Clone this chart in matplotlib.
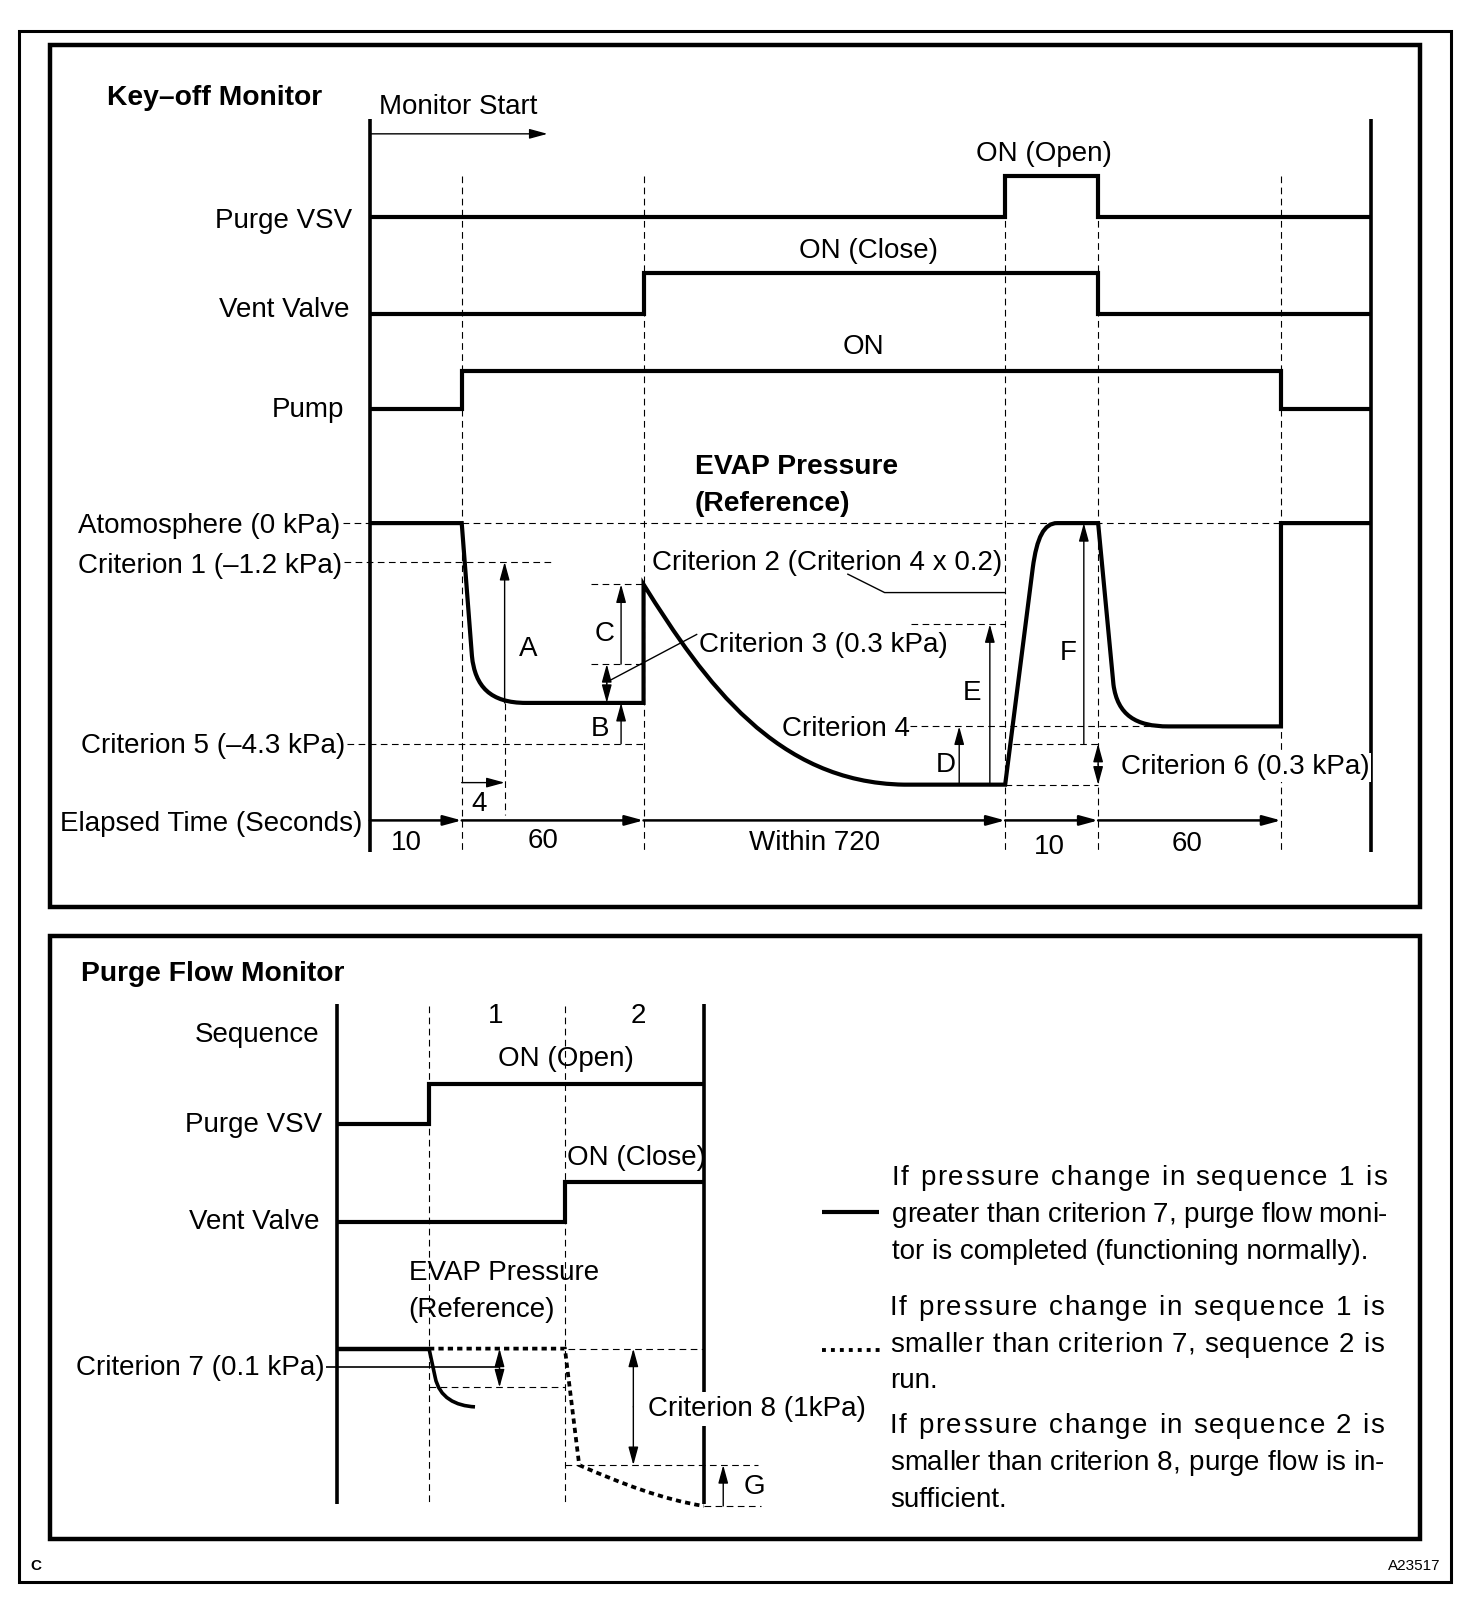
import matplotlib
matplotlib.use('Agg')
import matplotlib.pyplot as plt
from matplotlib.path import Path
from matplotlib.patches import PathPatch, Rectangle
from matplotlib.font_manager import FontProperties

plt.rcParams['font.family'] = ['Liberation Sans', 'DejaVu Sans']

# ---------------- key-off monitor ----------------
# schematic time axis: boundaries of the monitor phases
t_edges = [362, 452, 630, 984, 1075, 1254, 1342]
phase_text = ['10', '60', 'Within 720', '10', '60']

# on/off state per phase
purge_vsv = [0, 0, 0, 1, 0, 0]
vent_valve = [0, 0, 1, 1, 0, 0]
pump = [0, 1, 1, 1, 1, 0]

# EVAP pressure trace (schematic, M=move L=line C=bezier)
evap_pts = [(362, 512), (452, 512), (462, 642),
            (465, 672), (480, 688), (515, 688),
            (630, 688), (630, 572),
            (690, 668), (760, 766), (885, 768),
            (984, 768), (1011, 556),
            (1015, 526), (1022, 512), (1035, 512),
            (1075, 512), (1090, 670),
            (1094, 700), (1112, 711), (1144, 711),
            (1254, 711), (1254, 512), (1342, 512)]
evap_codes = 'MLLCCCLLCCCLLCCCLLCCCLLL'

# ---------------- purge flow monitor ----------------
seq_edges = [330, 420, 553, 689]
seq_names = ['1', '2']
purge_seq = [0, 1, 1]
vent_seq = [0, 0, 1]

normal_pts = [(420, 1320), (426, 1348), (430, 1368), (446, 1376), (465, 1377)]
normal_codes = 'MLCCC'
slow_pts = [(420, 1320), (553, 1320), (567, 1434), (608, 1452), (650, 1468), (689, 1474)]
slow_codes = 'MLLCCC'

notes = [
    ("If pressure change in sequence 1 is", True, 1150),
    ("greater than criterion 7, purge flow moni-", True, 1186),
    ("tor is completed (functioning normally).", False, 1222),
    ("If pressure change in sequence 1 is", True, 1277),
    ("smaller than criterion 7, sequence 2 is", True, 1313),
    ("run.", False, 1349),
    ("If pressure change in sequence 2 is", True, 1393),
    ("smaller than criterion 8, purge flow is in-", True, 1429),
    ("sufficient.", False, 1465),
]

CODES = {'M': Path.MOVETO, 'L': Path.LINETO, 'C': Path.CURVE4}
FS = 20
FSB = 20.3

fig = plt.figure(figsize=(14.72, 16.02), dpi=100)
ax = fig.add_axes([0, 0, 1, 1])
ax.set_xlim(0, 1441)
ax.set_ylim(1568, 0)
ax.axis('off')


def txt(x, y, s, ha='left', bold=False, size=None, **kw):
    if size is None:
        size = FSB if bold else FS
    return ax.text(x, y + 10, s, ha=ha, va='baseline', fontsize=size,
                   fontweight='bold' if bold else 'normal', **kw)


def hline(y, x0, x1, **kw):
    ax.plot([x0, x1], [y, y], color='k', solid_capstyle='butt', **kw)


def vline(x, y0, y1, **kw):
    ax.plot([x, x], [y0, y1], color='k', solid_capstyle='butt', **kw)


def dashed_h(y, x0, x1):
    hline(y, x0, x1, lw=0.8, linestyle=(0, (6, 4)))


def dashed_v(x, y0, y1):
    vline(x, y0, y1, lw=0.8, linestyle=(0, (6, 4)))


def arrow(x0, y0, x1, y1, style='-|>', lw=1.0):
    ax.annotate('', xy=(x1, y1), xytext=(x0, y0),
                arrowprops=dict(arrowstyle=style + ',head_length=1.1,head_width=0.3',
                                lw=lw, color='k', shrinkA=0, shrinkB=0,
                                mutation_scale=10))


def trace(pts, codes, **kw):
    p = Path(pts, [CODES[c] for c in codes])
    ax.add_patch(PathPatch(p, fill=False, edgecolor='k', joinstyle='miter', **kw))


# frames
ax.add_patch(Rectangle((19, 30), 1401, 1518, fill=False, lw=2.2, ec='k'))
ax.add_patch(Rectangle((48.5, 44), 1342, 844, fill=False, lw=3.2, ec='k'))
ax.add_patch(Rectangle((48.5, 916), 1342, 590, fill=False, lw=3.2, ec='k'))
ax.text(30, 1537, 'C', fontsize=11, fontweight='bold', va='baseline')
ax.text(1410, 1537, 'A23517', fontsize=11, ha='right', va='baseline')

# ---------- key-off monitor ----------
txt(105, 93, 'Key\u2013off Monitor', bold=True)
vline(t_edges[0], 116, 834, lw=2.6)
vline(t_edges[-1], 116, 834, lw=2.6)
txt(371, 102, 'Monitor Start')
arrow(363, 131, 536, 131)

for x in t_edges[1:-1]:
    dashed_v(x, 172, 834)

rows = [('Purge VSV', purge_vsv, 212, 172, 345, 213),
        ('Vent Valve', vent_valve, 307, 267, 342, 300),
        ('Pump', pump, 400, 363, 337, 398)]
for name, state, lo, hi, lx, ly in rows:
    ax.stairs([hi if s else lo for s in state], t_edges, baseline=None,
              color='k', lw=3.0)
    txt(lx, ly, name, ha='right')
txt(1022, 148, 'ON (Open)', ha='center')
txt(850, 243, 'ON (Close)', ha='center')
txt(845, 336, 'ON', ha='center')

txt(680, 454, 'EVAP Pressure', bold=True)
txt(680, 490, '(Reference)', bold=True)

# level labels with leader dashes
txt(333, 512, 'Atomosphere (0 kPa)', ha='right')
dashed_h(512, 336, 362)
dashed_h(512, 452, 1254)
txt(335, 551, 'Criterion 1 (\u20131.2 kPa)', ha='right')
dashed_h(550, 337, 540)
txt(338, 727, 'Criterion 5 (\u20134.3 kPa)', ha='right')
dashed_h(728, 340, 630)

trace(evap_pts, evap_codes, lw=3.0)

# A / 4
arrow(494, 688, 494, 550)
vline(494, 688, 798, lw=0.8, linestyle=(0, (6, 4)))
txt(517, 632, 'A', ha='center')
arrow(452, 766, 494, 766)
txt(469, 784, '4', ha='center')

# C / B / criterion 3
dashed_h(572, 579, 630)
dashed_h(650, 579, 630)
arrow(608, 650, 608, 572)
txt(592, 617, 'C', ha='center')
arrow(594, 669, 594, 650)
arrow(594, 669, 594, 688)
arrow(608, 728, 608, 688)
txt(587, 710, 'B', ha='center')
ax.plot([597, 682], [666, 621], color='k', lw=1.0)
txt(684, 628, 'Criterion 3 (0.3 kPa)')

# criterion 2 leader
txt(638, 548, 'Criterion 2 (Criterion 4 x 0.2)')
ax.plot([830, 866, 984], [562, 580, 580], color='k', lw=1.0)

# D / E / criterion 4
dashed_h(611, 892, 984)
txt(766, 710, 'Criterion 4')
dashed_h(711, 891, 1144)
arrow(939, 768, 939, 711)
txt(926, 746, 'D', ha='center')
arrow(969, 768, 969, 611)
txt(952, 675, 'E', ha='center')

# F / criterion 6
dashed_h(728, 992, 1075)
dashed_h(768, 984, 1075)
arrow(1061, 728, 1061, 512)
txt(1046, 636, 'F', ha='center')
arrow(1075, 748, 1075, 728)
arrow(1075, 748, 1075, 768)
txt(1097, 748, 'Criterion 6 (0.3 kPa)', zorder=5,
    bbox=dict(fc='white', ec='none', pad=1))

# elapsed time axis
txt(355, 803, 'Elapsed Time (Seconds)', ha='right')
for i in range(len(t_edges) - 2):
    arrow(t_edges[i], 803, t_edges[i + 1], 803, lw=1.8)
phase_lx = [398, 532, 797, 1027, 1162]
phase_ly = [822, 820, 822, 826, 823]
for lab, x, y in zip(phase_text, phase_lx, phase_ly):
    txt(x, y, lab, ha='center')

# ---------- purge flow monitor ----------
txt(79, 950, 'Purge Flow Monitor', bold=True)
vline(seq_edges[0], 983, 1472, lw=2.6)
vline(seq_edges[-1], 983, 1472, lw=2.6)
for x in seq_edges[1:-1]:
    dashed_v(x, 985, 1470)
txt(313, 1010, 'Sequence', ha='right')
for nm, x in zip(seq_names, [485, 625]):
    txt(x, 991, nm, ha='center')

ax.stairs([1061 if s else 1100 for s in purge_seq], seq_edges, baseline=None, color='k', lw=3.0)
ax.stairs([1157 if s else 1196 for s in vent_seq], seq_edges, baseline=None, color='k', lw=3.0)
txt(315, 1098, 'Purge VSV', ha='right')
txt(313, 1193, 'Vent Valve', ha='right')
txt(554, 1033, 'ON (Open)', ha='center')
txt(555, 1130, 'ON (Close)')

txt(400, 1243, 'EVAP Pressure')
txt(400, 1279, '(Reference)')

hline(1320, 330, 420, lw=3.2)
trace(normal_pts, normal_codes, lw=2.6)
trace(slow_pts, slow_codes, lw=2.7, linestyle=(0, (1.4, 1.1)), capstyle='butt')

txt(318, 1336, 'Criterion 7 (0.1 kPa)', ha='right')
hline(1338, 319, 489, lw=1.2)
dashed_h(1358, 420, 553)
arrow(489, 1339, 489, 1320)
arrow(489, 1339, 489, 1358)

dashed_h(1320, 556, 689)
dashed_h(1434, 553, 742)
arrow(620, 1377, 620, 1320)
arrow(620, 1377, 620, 1434)
txt(634, 1376, 'Criterion 8 (1kPa)', zorder=5,
    bbox=dict(fc='white', ec='none', pad=3))
dashed_h(1474, 689, 745)
arrow(708, 1474, 708, 1434)
txt(728, 1452, 'G')

# legend + notes
hline(1186, 805, 860, lw=3.0)
hline(1321, 805, 862, lw=2.8, linestyle=(0, (1, 1.3)))

renderer = fig.canvas.get_renderer()
fp = FontProperties(family=plt.rcParams['font.family'], size=FS)
k = 1441 / 1472


def tw(s):
    return renderer.get_text_width_height_descent(s, fp, ismath=False)[0] * k


# justified notes: spread the slack over every character gap
for line, justify, y in notes:
    x0, x1 = (873, 1358) if y < 1250 else (871, 1355)
    if not justify:
        txt(x0, y, line)
        continue
    extra = (x1 - x0 - tw(line)) / (len(line) - 1)
    base = tw('H')
    for i, ch in enumerate(line):
        if ch == ' ':
            continue
        off = tw(line[:i] + 'H') - base if i else 0
        txt(x0 + off + i * extra, y, ch)

fig.savefig('out.png', dpi=100)
